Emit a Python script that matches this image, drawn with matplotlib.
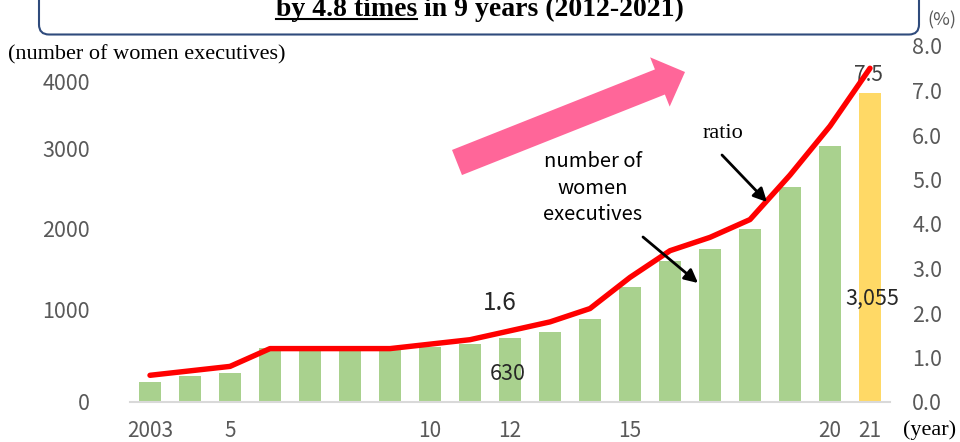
# Women executives in listed companies, 2003-2021
import matplotlib
matplotlib.use('Agg')
import matplotlib.pyplot as plt
from matplotlib.patches import FancyBboxPatch, FancyArrow, FancyArrowPatch
from matplotlib.lines import Line2D

plt.rcParams['font.family'] = ['Noto Sans CJK JP', 'DejaVu Sans']

# data
years = list(range(2003, 2022))
executives = [198, 257, 287, 534, 544, 544, 544, 545, 573, 630,
              692, 820, 1136, 1393, 1512, 1709, 2124, 2529, 3055]
ratio = [0.6, 0.7, 0.8, 1.2, 1.2, 1.2, 1.2, 1.3, 1.4, 1.6,
         1.8, 2.1, 2.8, 3.4, 3.7, 4.1, 5.1, 6.2, 7.5]
xtick_years = [2003, 2005, 2010, 2012, 2015, 2020, 2021]
xtick_labels = ['2003', '5', '10', '12', '15', '20', '21']
left_labels = ['0', '1000', '2000', '3000', '4000']
right_ticks = [0, 1, 2, 3, 4, 5, 6, 7, 8]

W, H = 960, 442
GREEN = '#A9D18E'
YELLOW = '#FFD966'
GREY = '#595959'


def fx(x):
    return x / W


def fy(y):
    return 1 - y / H


fig = plt.figure(figsize=(W / 100, H / 100), dpi=100)
fig.patch.set_facecolor('white')

# plot area: x 130..890 px, y 46..402 px
ax = fig.add_axes([fx(130), fy(402), 760 / W, 356 / H])
ax2 = ax.twinx()

colors = [GREEN] * (len(years) - 1) + [YELLOW]
ax.bar(years, executives, width=0.57, color=colors, zorder=2)
ax.set_xlim(2002.5, 2021.5)
ax.set_ylim(0, 3520)

# left labels sit where they are printed in the original (not evenly spaced)
left_pos = [0, 910, 1720, 2510, 3165]
ax.set_yticks(left_pos)
ax.set_yticklabels(left_labels)
ax.tick_params(axis='y', length=0, pad=29, labelsize=15.5, labelcolor=GREY)
ax.set_xticks(xtick_years)
ax.set_xticklabels(xtick_labels)
ax.tick_params(axis='x', length=0, pad=13, labelsize=15, labelcolor=GREY)

ax2.plot(years, ratio, color='#FF0000', lw=3.9, solid_capstyle='round')
ax2.set_ylim(0, 8)
ax2.set_yticks(right_ticks)
ax2.set_yticklabels([f'{v:.1f}' for v in right_ticks])
ax2.tick_params(axis='y', length=0, pad=16, labelsize=15.5, labelcolor=GREY)

for a in (ax, ax2):
    for s in a.spines.values():
        s.set_visible(False)
ax.spines['bottom'].set_visible(True)
ax.spines['bottom'].set_color('#D9D9D9')
ax.spines['bottom'].set_linewidth(1.5)

# value labels
ax.text(fx(868), fy(75), '7.5', transform=fig.transFigure, ha='center',
        va='center', fontsize=15, color='#404040')
fig.text(fx(872), fy(299), '3,055', ha='center', va='center', fontsize=15.5,
         color='#262626')
fig.text(fx(508), fy(374), '630', ha='center', va='center', fontsize=15.5,
         color='#262626')
fig.text(fx(500), fy(303), '1.6', ha='center', va='center', fontsize=17.5,
         color='#262626')

# axis captions
fig.text(fx(8), fy(55), '(number of women executives)', ha='left',
         va='center', fontsize=16, family='Liberation Serif')
fig.text(fx(903), fy(430), '(year)', ha='left', va='center', fontsize=16,
         family='Liberation Serif')
fig.text(fx(927), fy(20), '(%)', ha='left', va='center', fontsize=13,
         color=GREY)

# title box (its top lies outside the picture)
box = FancyBboxPatch((0.39, (H - 34.5) / 100), 8.80, 1.0,
                     boxstyle='round,pad=0,rounding_size=0.10',
                     transform=fig.dpi_scale_trans, facecolor='white',
                     edgecolor='#2F4B7C', lw=1.5)
fig.add_artist(box)

part1 = 'by 4.8 times'
part2 = ' in 9 years (2012-2021)'
t1 = fig.text(0, fy(16), part1, ha='left', va='baseline', fontsize=20,
              weight='bold', family='Liberation Serif')
t2 = fig.text(0, fy(16), part2, ha='left', va='baseline', fontsize=20,
              weight='bold', family='Liberation Serif')
r = fig.canvas.get_renderer()
w1 = t1.get_window_extent(r).width
w2 = t2.get_window_extent(r).width
x0 = 480 - (w1 + w2) / 2
t1.set_x(fx(x0))
t2.set_x(fx(x0 + w1))
fig.add_artist(Line2D([fx(x0), fx(x0 + w1)], [fy(18.8), fy(18.8)],
                      transform=fig.transFigure, color='black', lw=1.5))

# pink trend arrow
pink = FancyArrow(4.57, (H - 162.5) / 100, 2.28, 0.905, width=0.27,
                  head_width=0.53, head_length=0.27, length_includes_head=True,
                  transform=fig.dpi_scale_trans, color='#FF6699', lw=0)
fig.add_artist(pink)

# series captions with arrows
fig.text(fx(723), fy(133), 'ratio', ha='center', va='center', fontsize=16,
         family='Liberation Serif')
fig.text(fx(593), fy(188), 'number of\nwomen\nexecutives', ha='center',
         va='center', fontsize=14.5, linespacing=1.35)
for (xa, ya), (xb, yb) in [((722, 155), (767, 202)), ((643, 237), (698, 283))]:
    arr = FancyArrowPatch((xa / 100, (H - ya) / 100), (xb / 100, (H - yb) / 100),
                          transform=fig.dpi_scale_trans, arrowstyle='-|>',
                          mutation_scale=20, lw=2, color='black',
                          shrinkA=0, shrinkB=0)
    fig.add_artist(arr)

fig.savefig('out.png', dpi=100)
